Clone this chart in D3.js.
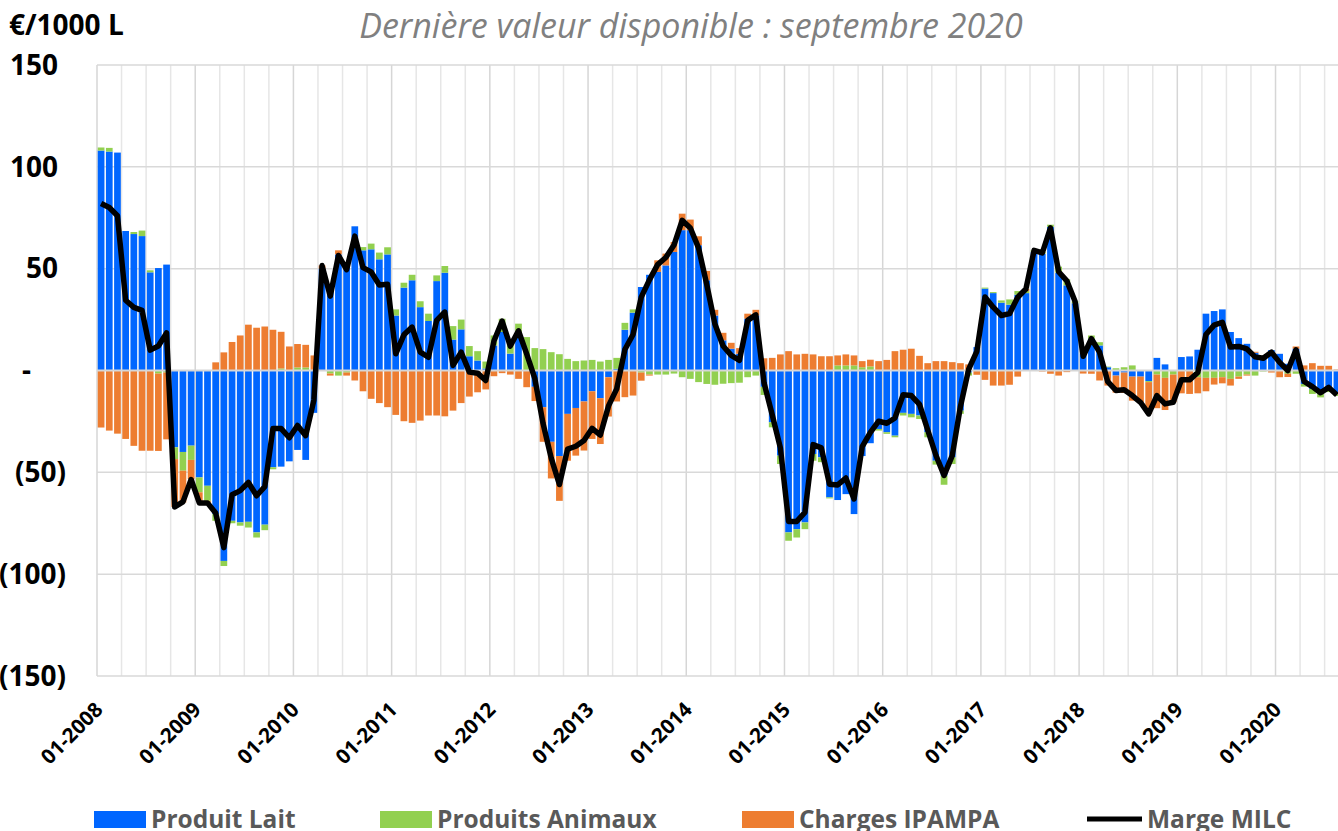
<!DOCTYPE html>
<html>
<head>
<meta charset="utf-8">
<title>Marge MILC</title>
<style>
  body { margin: 0; background: #fff; }
  svg { display: block; font-family: "Open Sans", Carlito, Calibri, sans-serif; }
  .vgrid { stroke: #e6e6e6; stroke-width: 1.5px; }
  .vgrid.year { stroke: #d6d6d6; }
  .hgrid { stroke: #d9d9d9; stroke-width: 1.5px; }
  .zero { stroke: #d6d6d6; stroke-width: 2px; }
  .ylab { font-size: 28px; font-weight: 700; fill: #000; }
  .xlab { font-size: 20.5px; font-weight: 700; fill: #000; }
  .unit { font-size: 28px; font-weight: 700; fill: #000; }
  .title { font-size: 34px; font-style: italic; fill: #808080; }
  .legend text { font-size: 24.5px; font-weight: 700; fill: #595959; }
  .marge { fill: none; stroke: #000; stroke-width: 5.5px; stroke-linejoin: round; }
</style>
</head>
<body>
<script src="https://d3js.org/d3.v7.min.js"></script>
<script>

var width = 1338,
    height = 831;

// months 01-2008 .. 08-2020 (09-2020 falls outside the picture)
var months = d3.timeMonth.range(new Date(2008, 0, 1), new Date(2020, 8, 1));

var tickLabels = ["01-2008", "01-2009", "01-2010", "01-2011", "01-2012", "01-2013", "01-2014",
                  "01-2015", "01-2016", "01-2017", "01-2018", "01-2019", "01-2020"];

var yTicks = [150, 100, 50, 0, -50, -100, -150];

// €/1000 L, one row per year
var produitLait = [
  108, 107.5, 107, 68.5, 67, 66, 48.2, 50.3, 52, -37.7, -40, -36.9,
  -52.5, -56.6, -70.5, -93.5, -73.8, -74.6, -74.3, -79.5, -75.7, -47.5, -47.2, -44.6,
  -39, -43.9, -20.8, 50, 39, 57, 52, 70.8, 59, 59.5, 54.6, 57,
  27, 40.7, 44.3, 31.1, 24.3, 43.9, 48, 15.2, 20.2, 7, 4.9, 1,
  12.3, 18.9, 8.3, 17, 0, -8, -18, -35, -42, -21.3, -18.4, -15.2,
  -10.2, -13.6, -3.3, 0.8, 20, 28.4, 41, 47, 48.4, 51.6, 58.2, 68.9,
  68.9, 61.5, 44.3, 27, 14.8, 10.7, 8.2, 25.4, 27, -8, -25.4, -41.8,
  -79.5, -77.9, -74.6, -41, -42.6, -62.3, -63.6, -60.7, -70.5, -42, -35.7, -28.7,
  -30.3, -32, -20.8, -21.3, -22.1, -30.3, -44.3, -51.6, -42.6, -19.7, -1, 11.5,
  40.2, 38, 33.3, 32.3, 37.2, 38, 58.2, 57.4, 70.5, 48, 41.8, 33,
  8.5, 15.6, 12.3, 1.6, -2.5, -1, -3, -3, -5.2, 6.2, 3, 0,
  6.6, 6.9, 10.2, 27.9, 29.2, 30, 18.9, 15.9, 13.1, 8.7, 6, 10,
  8.2, 3.3, 10.7, -6.6, -9, -10.2, -9, -11
];

var produitsAnimaux = [
  1.5, 1.8, 0, 0, 1, 2.7, 1, -1.5, -1, -5.8, -9.2, -7,
  -7.3, -7.4, -3.3, -2.5, -1.2, -1.6, -2.8, -2.5, -2.7, -1, 1, 0,
  1.5, 1.5, 0, 0, -1.5, -2.5, -1, 0, 1.6, 2.8, 3.3, 3.5,
  3, 2.4, 2.7, 2.9, 3.6, 2.8, 3.3, 6.6, 4.8, 5, 4.6, 3.4,
  4.9, 6.5, 4.9, 6, 16.4, 11, 10.5, 9, 8, 5.7, 4.6, 4.9,
  5.2, 4.4, 5.2, 5.4, 3.4, 1.6, -1, -2, -2, -2, -1.5, -3.3,
  -4.1, -5.7, -6.6, -7, -6.5, -6.2, -6, -3.3, -2.5, -4, -2.5, -4.1,
  -4.1, -4.1, -3.3, -3.3, -2.4, -0.5, 2.5, 2.5, 2.5, 1.6, 2, -0.8,
  -0.8, -0.8, -1.3, -1.7, -1.7, -2.5, -1.9, -4.5, -3.3, -1.6, -1.5, 0,
  0.5, 0.5, 1.1, 2.6, 1.8, 1, 0.8, 0.8, 1.1, 3, 3, 1,
  0, 1.6, 1.6, 0.3, 1.1, 1.6, 2.5, 0, -0.5, -2, -3.6, -2,
  0, 0, -3.3, -3.6, -3.6, -3.3, -4.1, -3, -2, -2.5, -0.5, 0,
  0, -1.6, -1.6, -1.3, -2.5, -3, -1.6, -1.5
];

var chargesIpampa = [
  -28, -29.5, -31, -33.6, -37, -39.4, -39.4, -38, -32.8, -23.5, -15.6, -9.4,
  -4.2, -1, 4, 8.9, 14, 17.2, 22.5, 21, 21.6, 20, 18, 11.8,
  11.5, 11.1, 7.4, 1.6, -1, 2, -1.5, -4.9, -10.2, -13.9, -16, -18,
  -21.8, -24.9, -25.7, -24.6, -22.1, -22.1, -22.5, -19.7, -16, -12.8, -10.7, -9.3,
  -2.8, -1.3, -2, -4.1, -8.2, -7, -17, -18, -22, -23, -23.4, -24.1,
  -23.4, -22.5, -19.3, -15.2, -13.1, -12.3, -4, -0.5, 5.7, 5.8, 4.9, 8.1,
  5.2, 4.4, 4.6, 2.8, 3.7, 2.9, 2.8, 2.5, 2.8, 6, 6.2, 7.9,
  9.5, 7.9, 8.2, 7.9, 7, 7, 4.9, 5.4, 4.9, 3, 3.3, 4.6,
  5.2, 9.5, 10.2, 10.7, 7.2, 3.6, 4.6, 4.6, 4.1, 3.6, 3, -2.1,
  -4.6, -7.4, -7.4, -7, -3, 1, 0, -0.5, -1.6, -2.5, -0.8, 0,
  -1.5, -1.6, -4.9, -7.4, -8.4, -10, -11.8, -12.6, -15.6, -16.5, -15.8, -13.6,
  -11.2, -11.5, -7.9, -6.6, -3.3, -3, -3.3, -1.1, -0.5, 0.5, 0.5, -1,
  -3.3, -1.6, 1.1, 2.5, 3.6, 2.3, 2.3, 0.5
];

var margeMilc = [
  82, 80, 76, 34.5, 31, 29.5, 10, 12, 18.5, -67, -64.5, -53.5,
  -65, -65, -70, -87, -61, -59, -55, -61.5, -57, -28.5, -28.5, -33,
  -27, -32, -14.5, 51.5, 36.5, 56.5, 49.5, 66, 50.5, 48.4, 42, 42.3,
  8.2, 17.5, 21.3, 9, 6.5, 24.6, 28.7, 2.5, 9, -0.8, -1.3, -4.9,
  14.5, 24.3, 12, 19.5, 8.2, -4, -26, -43, -56, -38.6, -37.2, -34.4,
  -28.4, -31.7, -17.4, -9, 10.3, 17.7, 36, 44.5, 52, 55.5, 61.6, 73.7,
  70, 60.2, 42.3, 22.8, 12, 7.4, 5, 24.6, 27.3, -6, -21.7, -38,
  -74.1, -74.1, -69.7, -36.4, -38, -55.8, -56.2, -52.8, -63.1, -37.4, -30.4, -24.9,
  -25.9, -23.3, -11.9, -12.3, -16.6, -29.2, -41.6, -51.5, -41.8, -17.7, 0.5, 9.4,
  36.1, 31.1, 27, 27.9, 36, 40, 59, 57.7, 70, 48.5, 44, 34,
  7, 15.6, 9, -5.5, -9.8, -9.4, -12.3, -15.6, -21.3, -12.3, -16.4, -15.6,
  -4.6, -4.6, -1, 17.7, 22.3, 23.7, 11.5, 11.8, 10.6, 6.7, 6, 9,
  4, 0, 10.2, -5.4, -7.9, -10.9, -8.3, -12
];

var seriesKeys = ["lait", "animaux", "charges"];
var seriesNames = ["Produit Lait", "Produits Animaux", "Charges IPAMPA", "Marge MILC"];
var colors = { lait: "#0066ff", animaux: "#92d050", charges: "#ed7d31" };

var table = months.map(function(m, i) {
    return { month: m, lait: produitLait[i], animaux: produitsAnimaux[i],
             charges: chargesIpampa[i], marge: margeMilc[i] };
});

var x = d3.scaleBand()
    .domain(d3.range(months.length))
    .range([97, 1341])
    .paddingInner(0.18)
    .paddingOuter(0.09);

var y = d3.scaleLinear()
    .domain([-150, 150])
    .range([676, 65]);

var svg = d3.select("body").append("svg")
    .attr("width", width)
    .attr("height", height);

// vertical gridlines, one per quarter
var quarters = d3.range(0, months.length + 1, 3);
svg.append("g").selectAll("line")
    .data(quarters).enter()
    .append("line")
    .attr("class", function(d) { return d % 12 === 0 ? "vgrid year" : "vgrid"; })
    .attr("x1", function(d) { return 97 + d * x.step(); })
    .attr("x2", function(d) { return 97 + d * x.step(); })
    .attr("y1", y(150))
    .attr("y2", y(-150));

// horizontal gridlines
svg.append("g").selectAll("line")
    .data(yTicks.filter(function(d) { return d !== 0; })).enter()
    .append("line")
    .attr("class", "hgrid")
    .attr("x1", 97).attr("x2", 1341)
    .attr("y1", function(d) { return y(d); })
    .attr("y2", function(d) { return y(d); });

// stacked bars
var stacked = d3.stack()
    .keys(seriesKeys)
    .offset(d3.stackOffsetDiverging)(table);

svg.append("g").selectAll("g")
    .data(stacked).enter()
    .append("g")
    .attr("fill", function(d) { return colors[d.key]; })
    .selectAll("rect")
    .data(function(d) { return d; }).enter()
    .append("rect")
    .attr("x", function(d, i) { return x(i); })
    .attr("width", x.bandwidth())
    .attr("y", function(d) { return y(Math.max(d[0], d[1])); })
    .attr("height", function(d) { return Math.abs(y(d[0]) - y(d[1])); });

// horizontal axis line
svg.append("line")
    .attr("class", "zero")
    .attr("x1", 97).attr("x2", 1341)
    .attr("y1", y(0)).attr("y2", y(0));

// Marge MILC
var line = d3.line()
    .x(function(d, i) { return x(i) + x.bandwidth() / 2; })
    .y(function(d) { return y(d.marge); });

svg.append("path")
    .datum(table)
    .attr("class", "marge")
    .attr("d", line);

// y labels (accounting style)
svg.append("g").selectAll("text")
    .data(yTicks).enter()
    .append("text")
    .attr("class", "ylab")
    .attr("text-anchor", "end")
    .attr("x", function(d) { return d > 0 ? 58 : d === 0 ? 31 : 66; })
    .attr("y", function(d) { return y(d); })
    .attr("dy", "0.35em")
    .text(function(d) { return d === 0 ? "-" : d < 0 ? "(" + (-d) + ")" : d; });

// x labels
svg.append("g").selectAll("text")
    .data(tickLabels).enter()
    .append("text")
    .attr("class", "xlab")
    .attr("text-anchor", "end")
    .attr("transform", function(d, k) {
        return "translate(" + (97 + k * 12 * x.step() + 7) + ",711) rotate(-45)";
    })
    .text(function(d) { return d; });

svg.append("text")
    .attr("class", "unit")
    .attr("x", 9).attr("y", 35)
    .text("€/1000 L");

svg.append("text")
    .attr("class", "title")
    .attr("x", 691).attr("y", 38)
    .attr("text-anchor", "middle")
    .text("Dernière valeur disponible : septembre 2020");

// legend
var legendX = [94, 380, 742, 1087];
var legend = svg.append("g").attr("class", "legend");
seriesKeys.forEach(function(k, i) {
    legend.append("rect")
        .attr("x", legendX[i]).attr("y", 811)
        .attr("width", 52).attr("height", 17)
        .attr("fill", colors[k]);
});
legend.append("line")
    .attr("x1", legendX[3]).attr("x2", legendX[3] + 55)
    .attr("y1", 819).attr("y2", 819)
    .attr("stroke", "#000").attr("stroke-width", 5);
legend.selectAll("text")
    .data(seriesNames).enter()
    .append("text")
    .attr("x", function(d, i) { return legendX[i] + (i === 3 ? 60 : 57); })
    .attr("y", 828)
    .text(function(d) { return d; });

</script>
</body>
</html>
